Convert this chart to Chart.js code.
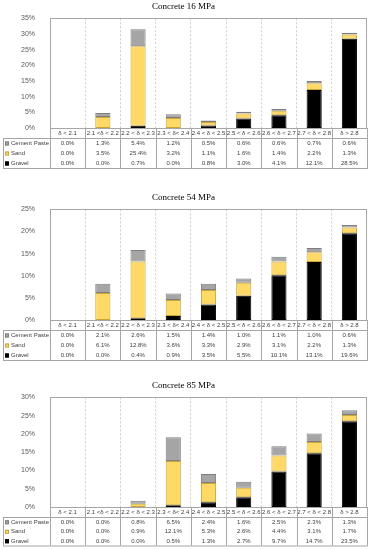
<!DOCTYPE html>
<html>
<head>
<meta charset="utf-8">
<script src="https://cdn.jsdelivr.net/npm/chart.js@4.4.1/dist/chart.umd.min.js"></script>
<style>
  body { margin: 0; background: #fff; }
  .box { position: absolute; left: 0; width: 370px; }
</style>
</head>
<body>
<div class="box" style="top:0;height:183px"><canvas id="c16"></canvas></div>
<div class="box" style="top:183px;height:183px"><canvas id="c54"></canvas></div>
<div class="box" style="top:366px;height:184px"><canvas id="c85"></canvas></div>
<script>
const categories = ["δ < 2.1", "2.1 <δ < 2.2", "2.2 < δ < 2.3", "2.3 < δ< 2.4", "2.4 < δ < 2.5",
  "2.5 < δ < 2.6", "2.6 < δ < 2.7", "2.7 < δ < 2.8", "δ > 2.8"];
const seriesNames = ["Cement Paste", "Sand", "Gravel"];

// Concrete 16 MPa
const cement16 = [0.0, 1.3, 5.4, 1.2, 0.5, 0.6, 0.6, 0.7, 0.6];
const sand16 = [0.0, 3.5, 25.4, 3.2, 1.1, 1.6, 1.4, 2.2, 1.3];
const gravel16 = [0.0, 0.0, 0.7, 0.0, 0.8, 3.0, 4.1, 12.1, 28.5];

// Concrete 54 MPa
const cement54 = [0.0, 2.1, 2.6, 1.5, 1.4, 1.0, 1.1, 1.0, 0.6];
const sand54 = [0.0, 6.1, 12.8, 3.6, 3.3, 2.9, 3.1, 2.2, 1.3];
const gravel54 = [0.0, 0.0, 0.4, 0.9, 3.5, 5.5, 10.1, 13.1, 19.6];

// Concrete 85 MPa
const cement85 = [0.0, 0.0, 0.8, 6.5, 2.4, 1.6, 2.5, 2.3, 1.3];
const sand85 = [0.0, 0.0, 0.9, 12.1, 5.3, 2.6, 4.4, 3.1, 1.7];
const gravel85 = [0.0, 0.0, 0.0, 0.5, 1.3, 2.7, 9.7, 14.7, 23.5];

const colors = { fill: ["#a5a5a5", "#ffd966", "#000000"], line: ["#7f7f7f", "#c9a53a", "#000000"] };
const sansFont = "'Liberation Sans', Arial, sans-serif";
const serifFont = "'Liberation Serif', 'Times New Roman', serif";
const lineGray = "#a6a6a6";
const textGray = "#404040";

// draws the plot frame and the data table under the x axis
const tablePlugin = {
  id: "dataTable",
  afterDraw(chart, args, opts) {
    const ctx = chart.ctx;
    const area = chart.chartArea;
    const x = chart.scales.x;
    const rows = opts.rows;
    const headH = 10, rowH = opts.rowH;
    const top = Math.round(area.bottom + headH);
    const bottom = top + rowH * rows.length;
    const half = (x.getPixelForValue(1) - x.getPixelForValue(0)) / 2;
    let edges = [];
    for (let i = 0; i < categories.length; i++) edges.push(Math.round(x.getPixelForValue(i) - half));
    edges.push(Math.round(area.right));

    ctx.save();
    ctx.strokeStyle = lineGray;
    ctx.lineWidth = 1;
    ctx.strokeRect(Math.round(area.left) + 0.5, Math.round(area.top) + 0.5,
      Math.round(area.right - area.left) - 1, Math.round(area.bottom - area.top));

    ctx.beginPath();
    edges.forEach((e) => { ctx.moveTo(e + 0.5, area.bottom); ctx.lineTo(e + 0.5, bottom); });
    ctx.moveTo(3.5, top); ctx.lineTo(3.5, bottom);
    ctx.moveTo(3, top + 0.5); ctx.lineTo(edges[edges.length - 1] + 1, top + 0.5);
    ctx.moveTo(3, bottom + 0.5); ctx.lineTo(edges[edges.length - 1] + 1, bottom + 0.5);
    ctx.stroke();

    ctx.font = "6px " + sansFont;
    ctx.textBaseline = "middle";
    rows.forEach((row, r) => {
      const cy = top + rowH * r + rowH / 2 + 0.5;
      ctx.fillStyle = row.fill;
      ctx.fillRect(5, cy - 2, 4, 4);
      ctx.strokeStyle = row.line;
      ctx.strokeRect(5.5, cy - 1.5, 3, 3);
      ctx.fillStyle = textGray;
      ctx.textAlign = "left";
      ctx.fillText(row.label, 11, cy);
      ctx.textAlign = "center";
      row.data.forEach((v, i) => ctx.fillText(v.toFixed(1) + "%", x.getPixelForValue(i), cy));
    });
    ctx.restore();
  },
};

function makeChart(canvasId, title, cement, sand, gravel, yMax, padTop, padBottom, rowH) {
  const stack = [gravel, sand, cement];
  const order = [2, 1, 0];
  const datasets = stack.map((d, k) => ({
    label: seriesNames[order[k]],
    data: d,
    backgroundColor: colors.fill[order[k]],
    borderColor: colors.line[order[k]],
    borderWidth: 1,
    borderSkipped: false,
    barPercentage: 0.43,
    categoryPercentage: 1,
  }));
  const rows = [cement, sand, gravel].map((d, k) => ({
    label: seriesNames[k], data: d, fill: colors.fill[k], line: colors.line[k],
  }));

  return new Chart(document.getElementById(canvasId), {
    type: "bar",
    data: { labels: categories, datasets: datasets },
    plugins: [tablePlugin],
    options: {
      responsive: true,
      maintainAspectRatio: false,
      animation: false,
      layout: { padding: { top: padTop, bottom: padBottom, left: 0, right: 3 } },
      scales: {
        x: {
          stacked: true,
          grid: { offset: true, drawTicks: false, color: "#cfcfcf", lineWidth: 1 },
          border: { display: false, dash: [2, 2] },
          ticks: { font: { family: sansFont, size: 6 }, color: textGray, padding: 2, maxRotation: 0, autoSkip: false },
          afterFit: (s) => { s.height = 10; },
        },
        y: {
          stacked: true,
          min: 0,
          max: yMax,
          grid: { display: false },
          border: { display: false },
          ticks: {
            stepSize: 5,
            padding: 7,
            color: "#595959",
            font: { family: sansFont, size: 7 },
            callback: (v) => v + "%",
          },
          afterFit: (s) => { s.width = 50; },
        },
      },
      plugins: {
        legend: { display: false },
        tooltip: { enabled: false },
        title: {
          display: true,
          text: title,
          color: "#000",
          font: { family: serifFont, size: 9, weight: "normal" },
          padding: { top: 0, bottom: 6 },
        },
        dataTable: { rows: rows, rowH: rowH },
      },
    },
  });
}

makeChart("c16", "Concrete 16 MPa", cement16, sand16, gravel16, 35, 1.5, 45, 10);
makeChart("c54", "Concrete 54 MPa", cement54, sand54, gravel54, 25, 9.6, 36, 10);
makeChart("c85", "Concrete 85 MPa", cement85, sand85, gravel85, 30, 14.6, 33, 9.5);
</script>
</body>
</html>
